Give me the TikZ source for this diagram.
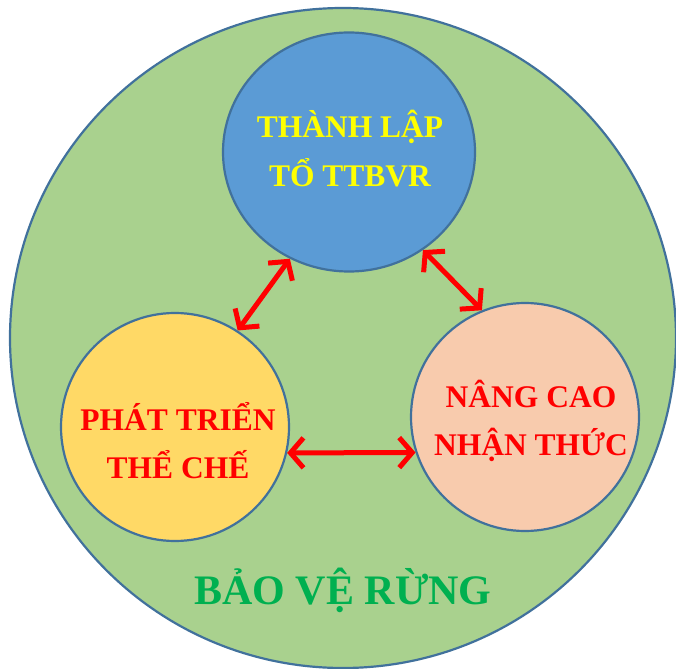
\documentclass[tikz,border=0pt]{standalone}
\usepackage{fontspec}
\setmainfont{Liberation Serif}
\usetikzlibrary{shapes.geometric,arrows.meta}
\definecolor{bgreen}{HTML}{A9D18E}
\definecolor{cblue}{HTML}{5B9BD5}
\definecolor{cyellow}{HTML}{FFD966}
\definecolor{cpink}{HTML}{F8CBAD}
\definecolor{edge}{HTML}{41719C}
\definecolor{tyellow}{HTML}{FFFF00}
\definecolor{tred}{HTML}{FF0000}
\definecolor{tgreen}{HTML}{00B050}
\begin{document}
\begin{tikzpicture}[x=1pt,y=-1pt,
  blob/.style={ellipse, draw=edge, line width=2.2pt, inner sep=0pt},
  lbl/.style={anchor=base, font=\bfseries\fontsize{31.5}{36}\selectfont, inner sep=0pt},
  link/.style={draw=tred, line width=5pt, line cap=round, line join=round,
    {Straight Barb[length=13pt,width=30pt]}-{Straight Barb[length=13pt,width=30pt]}}]
\useasboundingbox (0,0) rectangle (676,668);
\node[blob, fill=bgreen, minimum width=666pt, minimum height=660pt] (forest) at (343,338) {};
\node[blob, fill=cblue, minimum width=252pt, minimum height=239pt] (top) at (349,152) {};
\node[blob, fill=cyellow, minimum width=228pt, minimum height=228pt] (left) at (175,427) {};
\node[blob, fill=cpink, minimum width=228pt, minimum height=228pt] (right) at (525,417) {};
\node[lbl, text=tyellow] (t1) at (350,138) {THÀNH LẬP};
\node[lbl, text=tyellow] (t2) at (350,186) {TỔ TTBVR};
\node[lbl, text=tred] (l1) at (178,430) {PHÁT TRIỂN};
\node[lbl, text=tred] (l2) at (178,478) {THỂ CHẾ};
\node[lbl, text=tred] (r1) at (531,407) {NÂNG CAO};
\node[lbl, text=tred] (r2) at (531,455) {NHẬN THỨC};
\node[lbl, text=tgreen, font=\bfseries\fontsize{42}{48}\selectfont] (g) at (343,604) {BẢO VỆ RỪNG};
\draw[link] (top.241) -- (left.57);
\draw[link] (top.307) -- (right.112);
\draw[link] (left.-13) -- (right.198);
\end{tikzpicture}
\end{document}
